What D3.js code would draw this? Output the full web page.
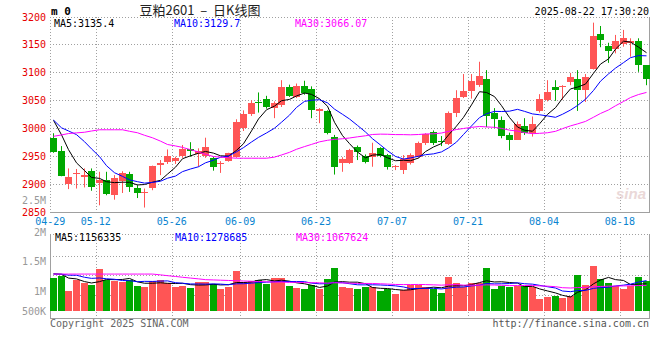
<!DOCTYPE html>
<html>
<head>
<meta charset="utf-8">
<script src="https://cdn.jsdelivr.net/npm/d3@7"></script>
<style>
body { margin: 0; background: #fff; }
svg { display: block; }
text { font-family: "DejaVu Sans Mono", monospace; font-size: 10px; }
</style>
</head>
<body>
<svg id="chart" width="660" height="360"></svg>
<script>
// trading days shown on the chart
const dates = [
  "04-29","04-30",
  "05-06","05-07","05-08","05-09",
  "05-12","05-13","05-14","05-15","05-16",
  "05-19","05-20","05-21","05-22","05-23",
  "05-26","05-27","05-28","05-29","05-30",
  "06-03","06-04","06-05","06-06",
  "06-09","06-10","06-11","06-12","06-13",
  "06-16","06-17","06-18","06-19","06-20",
  "06-23","06-24","06-25","06-26","06-27",
  "06-30","07-01","07-02","07-03","07-04",
  "07-07","07-08","07-09","07-10","07-11",
  "07-14","07-15","07-16","07-17","07-18",
  "07-21","07-22","07-23","07-24","07-25",
  "07-28","07-29","07-30","07-31","08-01",
  "08-04","08-05","08-06","08-07","08-08",
  "08-11","08-12","08-13","08-14","08-15",
  "08-18","08-19","08-20","08-21"
];

const openP = [
  2983,2960,2900,2917,2912,2924,2902,2907,2881,2905,
  2918,2893,2884,2892,2933,2940,2941,2949,2962,2955,
  2949,2947,2936,2941,2949,3000,3027,3047,3052,3036,
  3040,3074,3056,3076,3071,3030,3030,2985,2937,2938,
  2967,2950,2948,2964,2952,2930,2925,2937,2949,2973,
  2993,2977,2972,3028,3056,3067,3076,3088,3027,3015,
  2988,2980,3004,2991,3030,3049,3074,3075,3083,3088,
  3068,3106,3168,3147,3142,3151,3154,3156,3113
];
const highP = [
  2991,2968,2928,2927,2928,2928,2922,2922,2916,2923,
  2922,2898,2892,2933,2943,2962,2949,2970,2975,2964,
  2983,2949,2941,2956,3016,3032,3050,3064,3058,3048,
  3086,3078,3080,3085,3075,3036,3032,2988,2948,2963,
  2969,2953,2974,2966,2954,2934,2952,2955,2976,2991,
  2996,2986,3030,3068,3097,3097,3119,3104,3036,3021,
  2992,3012,3018,3021,3061,3086,3086,3077,3099,3104,
  3097,3189,3183,3153,3167,3176,3161,3161,3113
];
const lowP = [
  2956,2914,2891,2892,2894,2888,2862,2880,2872,2884,
  2886,2875,2858,2889,2916,2936,2936,2947,2949,2931,
  2947,2924,2920,2940,2947,2995,3022,3028,3035,3018,
  3038,3056,3054,3060,3018,3009,2989,2917,2922,2936,
  2943,2937,2931,2948,2926,2925,2918,2935,2947,2970,
  2970,2968,2970,3020,3054,3053,3074,3002,3000,2982,
  2960,2979,2988,2985,3028,3048,3049,3051,3077,3031,
  3047,3105,3145,3117,3134,3146,3128,3101,3077
];
const closeP = [
  2958,2916,2912,2919,2916,2896,2908,2882,2911,2920,
  2895,2884,2886,2932,2937,2950,2946,2962,2958,2960,
  2966,2931,2938,2955,3012,3025,3046,3045,3037,3045,
  3073,3058,3076,3063,3033,3034,2991,2932,2944,2961,
  2958,2940,2956,2950,2931,2932,2944,2952,2974,2989,
  2973,2975,3028,3054,3067,3085,3093,3021,3017,2986,
  2979,3008,2992,3008,3052,3064,3068,3076,3092,3068,
  3091,3165,3158,3138,3156,3162,3157,3113,3088
];
const volume = [
  1318000,1375000,993000,1268000,1185000,1143000,1543000,1268000,1243000,1210000,
  1268000,1118000,1093000,1243000,1268000,1200000,1093000,1125000,1068000,1218000,
  1218000,1175000,1043000,1093000,1493000,1218000,1243000,1268000,1168000,1318000,
  1318000,1118000,1068000,1043000,1135000,1043000,1293000,1568000,1093000,1068000,
  1043000,1100000,1093000,993000,1043000,918000,1018000,1143000,1143000,1093000,
  1043000,943000,1343000,1193000,1093000,1193000,1193000,1568000,1043000,1118000,
  1100000,1125000,1118000,1085000,800000,843000,875000,818000,875000,1393000,
  1150000,1625000,1293000,1200000,1118000,1043000,1118000,1343000,1243000
];

// closes / volumes of the 29 sessions before 04-29 (estimated from where the MA lines start)
const priorClose = [
  2841,2837,2884,2881,2830,2842,2882,2911,2920,2975,
  2964,3021,3067,3117,3130,3024,3040,3081,3083,3089,
  3054,2968,2985,3042,3025,3046,3045,3037,2985
];
const priorVolume = [
  1375000,993000,1268000,1185000,1143000,1543000,1268000,1243000,1210000,1268000,
  1118000,1093000,1243000,1870000,1800000,1690000,1720000,1670000,1820000,1820000,
  1375000,1240000,1290000,1690000,1420000,1440000,1470000,1370000,1520000
];

const priceTicks = [3200, 3150, 3100, 3050, 3000, 2950, 2900, 2850];
const volTickLabels = ["2.5M", "2M", "1.5M", "1M", "500K"];
const dateTicks = ["04-29", "05-12", "05-26", "06-09", "06-23", "07-07", "07-21", "08-04", "08-18"];
const priceLegend = ["MA5:3135.4", "MA10:3129.7", "MA30:3066.07"];
const volLegend = ["MA5:1156335", "MA10:1278685", "MA30:1067624"];
const maPeriods = [5, 10, 30];

// layout
const left = 50, right = 649.5;
const mainTop = 17, mainBottom = 212;
const volTop = 234, volBottom = 318;
const volLabelY = [200, 232, 261, 291, 311];
const volGridY = [256, 275.5, 295.5];
const maColors = ["#000000", "#0000ff", "#ff00ff"];
const legendX = [54, 174, 295];
const upColor = "#ff5555", downColor = "#00a800";
const gridColor = "#a0a0a0";

const svg = d3.select("#chart");

const x = d3.scaleBand()
    .domain(d3.range(dates.length))
    .range([49.5, 649.5])
    .paddingInner(0.2)
    .paddingOuter(0.1);
const bw = 6;
const cx = i => Math.round(x(i)) + 3;

const y = d3.scaleLinear().domain([2850, 3200]).range([212, 16.5]);
const yv = d3.scaleLinear().domain([500000, 2500000]).range([310.7, 230.7]);

function movingAvg(series, prior, n) {
    const all = prior.concat(series);
    return series.map((d, i) => d3.mean(all.slice(i + prior.length - n + 1, i + prior.length + 1)));
}

// ---- grid ----
const grid = svg.append("g")
    .attr("stroke", gridColor)
    .attr("stroke-width", 1)
    .attr("stroke-dasharray", "1,2")
    .attr("shape-rendering", "crispEdges");

grid.selectAll(".hgrid")
    .data(priceTicks.slice(0, -1))
    .enter().append("line")
    .attr("x1", left).attr("x2", right)
    .attr("y1", d => Math.round(y(d)) + 0.5)
    .attr("y2", d => Math.round(y(d)) + 0.5);

grid.append("line")
    .attr("x1", left + 0.5).attr("x2", left + 0.5)
    .attr("y1", mainTop).attr("y2", mainBottom);

grid.selectAll(".vgridTop")
    .data(dateTicks.slice(1))
    .enter().append("line")
    .attr("x1", d => Math.round(x(dates.indexOf(d))) + 0.5)
    .attr("x2", d => Math.round(x(dates.indexOf(d))) + 0.5)
    .attr("y1", mainTop).attr("y2", mainBottom);

grid.selectAll(".vgridVol")
    .data(dateTicks.slice(1))
    .enter().append("line")
    .attr("x1", d => Math.round(x(dates.indexOf(d))) + 0.5)
    .attr("x2", d => Math.round(x(dates.indexOf(d))) + 0.5)
    .attr("y1", volTop).attr("y2", volBottom);

grid.append("line")
    .attr("x1", left).attr("x2", right)
    .attr("y1", volTop + 0.5).attr("y2", volTop + 0.5);

grid.selectAll(".vhgrid")
    .data(volGridY)
    .enter().append("line")
    .attr("x1", left).attr("x2", right)
    .attr("y1", d => d).attr("y2", d => d);

// solid frame lines
const frame = svg.append("g")
    .attr("stroke", gridColor)
    .attr("stroke-width", 1)
    .attr("shape-rendering", "crispEdges");
frame.append("line").attr("x1", right).attr("x2", right).attr("y1", mainTop).attr("y2", mainBottom);
frame.append("line").attr("x1", left).attr("x2", right).attr("y1", mainBottom + 0.5).attr("y2", mainBottom + 0.5);
frame.append("line").attr("x1", right).attr("x2", right).attr("y1", volTop).attr("y2", volBottom);
frame.append("line").attr("x1", left).attr("x2", right).attr("y1", volBottom + 0.5).attr("y2", volBottom + 0.5);
frame.append("line").attr("x1", left + 0.5).attr("x2", left + 0.5).attr("y1", volTop).attr("y2", volBottom);

// watermark
svg.append("text")
    .attr("x", 646).attr("y", 199)
    .attr("text-anchor", "end")
    .style("font-family", "Arial, 'Liberation Sans', sans-serif")
    .style("font-size", "15px")
    .style("font-weight", "bold")
    .style("font-style", "italic")
    .attr("fill", "#ead8d8")
    .text("sina");

// ---- candles ----
const idx = d3.range(dates.length);
const isUp = i => closeP[i] >= openP[i];

svg.append("g").selectAll("line")
    .data(idx)
    .enter().append("line")
    .attr("x1", i => cx(i) + 0.5)
    .attr("x2", i => cx(i) + 0.5)
    .attr("y1", i => y(highP[i]))
    .attr("y2", i => y(lowP[i]))
    .attr("stroke", i => isUp(i) ? upColor : downColor)
    .attr("stroke-width", 1);

svg.append("g").selectAll("rect")
    .data(idx)
    .enter().append("rect")
    .attr("x", i => Math.round(x(i)))
    .attr("width", bw + 1)
    .attr("y", i => Math.round(y(Math.max(openP[i], closeP[i]))))
    .attr("height", i => Math.max(1, Math.round(Math.abs(y(openP[i]) - y(closeP[i])))))
    .attr("fill", i => isUp(i) ? upColor : downColor)
    .attr("shape-rendering", "crispEdges");

// price MA lines
maPeriods.forEach((n, k) => {
    const ma = movingAvg(closeP, priorClose, n);
    svg.append("path")
        .datum(idx)
        .attr("fill", "none")
        .attr("stroke", maColors[k])
        .attr("stroke-width", 1)
        .attr("d", d3.line().x(i => cx(i) + 0.5).y(i => y(ma[i])));
});

// ---- volume ----
svg.append("g").selectAll("rect")
    .data(idx)
    .enter().append("rect")
    .attr("x", i => Math.round(x(i)))
    .attr("width", bw + 1)
    .attr("y", i => Math.round(yv(volume[i])))
    .attr("height", i => Math.round(yv(500000)) - Math.round(yv(volume[i])))
    .attr("fill", i => isUp(i) ? upColor : downColor)
    .attr("shape-rendering", "crispEdges");

maPeriods.forEach((n, k) => {
    const ma = movingAvg(volume, priorVolume, n);
    svg.append("path")
        .datum(idx)
        .attr("fill", "none")
        .attr("stroke", maColors[k])
        .attr("stroke-width", 1)
        .attr("d", d3.line().x(i => cx(i) + 0.5).y(i => yv(ma[i])));
});

// ---- axis labels ----
svg.append("g").selectAll("text")
    .data(priceTicks)
    .enter().append("text")
    .attr("x", 46)
    .attr("y", d => y(d) + 4)
    .attr("text-anchor", "end")
    .attr("fill", "#e60000")
    .text(d => d);

svg.append("g").selectAll("text")
    .data(volTickLabels)
    .enter().append("text")
    .attr("x", 46)
    .attr("y", (d, i) => volLabelY[i] + 4)
    .attr("text-anchor", "end")
    .attr("fill", "#999999")
    .text(d => d);

svg.append("g").selectAll("text")
    .data(dateTicks)
    .enter().append("text")
    .attr("x", d => x(dates.indexOf(d)))
    .attr("y", 225)
    .attr("text-anchor", "middle")
    .attr("fill", "#0a84d0")
    .text(d => d);

// ---- legends & titles ----
svg.append("g").selectAll("text")
    .data(priceLegend)
    .enter().append("text")
    .attr("x", (d, i) => legendX[i])
    .attr("y", 27)
    .attr("fill", (d, i) => maColors[i])
    .text(d => d);

svg.append("g").selectAll("text")
    .data(volLegend)
    .enter().append("text")
    .attr("x", (d, i) => legendX[i] + 1)
    .attr("y", 241)
    .attr("fill", (d, i) => maColors[i])
    .text(d => d);

svg.append("text")
    .attr("x", 51).attr("y", 15)
    .style("font-size", "11px")
    .style("font-weight", "bold")
    .attr("fill", "#000")
    .text("m 0");

svg.append("text")
    .attr("x", 200).attr("y", 15)
    .attr("text-anchor", "middle")
    .style("font-family", "'Noto Sans CJK SC', sans-serif")
    .style("font-size", "13px")
    .attr("fill", "#222")
    .attr("xml:space", "preserve")
    .style("white-space", "pre")
    .text("豆粕2601  –  日K线图");

svg.append("text")
    .attr("x", 649).attr("y", 15)
    .attr("text-anchor", "end")
    .attr("fill", "#000")
    .text("2025-08-22 17:30:20");

svg.append("text")
    .attr("x", 50).attr("y", 327)
    .attr("fill", "#666")
    .text("Copyright 2025 SINA.COM");

svg.append("text")
    .attr("x", 649).attr("y", 327)
    .attr("text-anchor", "end")
    .attr("fill", "#555")
    .text("http://finance.sina.com.cn");
</script>
</body>
</html>
